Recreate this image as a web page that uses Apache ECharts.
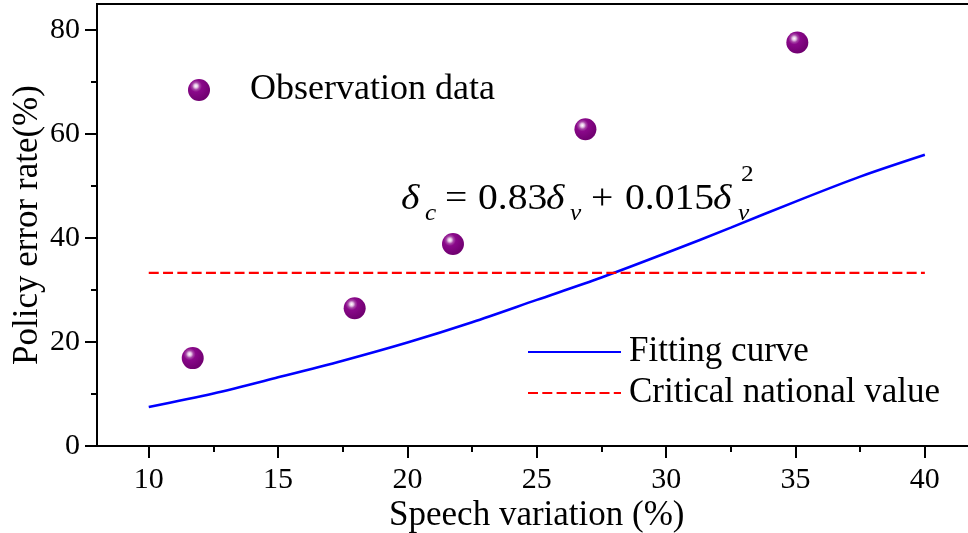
<!DOCTYPE html>
<html><head><meta charset="utf-8">
<script src="https://cdn.jsdelivr.net/npm/echarts@6.0.0/dist/echarts.min.js"></script>
<style>html,body{margin:0;padding:0;background:#fff}#c{width:968px;height:533px}</style>
</head><body><div id="c"></div>
<script>
// ---- data ----
const obsX = [11.70, 17.96, 21.76, 26.88, 35.07];
const obsY = [16.9, 26.5, 38.85, 60.9, 77.6];
const fitX = [10, 12.5, 15, 17.5, 20, 22.5, 25, 27.5, 30, 32.5, 35, 37.5, 40];
const fitY = [7.5, 10.1, 13.2, 16.4, 19.9, 23.8, 28.1, 32.4, 37.1, 42.0, 47.0, 51.8, 56.0];
const critX = [10, 40];
const critValue = 33.3;
const xTicks = [10, 15, 20, 25, 30, 35, 40];
const xMinorTicks = [12.5, 17.5, 22.5, 27.5, 32.5, 37.5];
const yTicks = [0, 20, 40, 60, 80];
const yMinorTicks = [10, 30, 50, 70];
const seriesNames = ['Observation data', 'Fitting curve', 'Critical national value'];
const xTitle = 'Speech variation (%)';
const yTitle = 'Policy error rate(%)';

const FONT = "'Liberation Serif','Times New Roman',serif";
const chart = echarts.init(document.getElementById('c'));

const gridRect = { left: 97, top: 4, width: 879.6, height: 442, outerBoundsMode: 'none', containLabel: false };
const sphere = new echarts.graphic.RadialGradient(0.36, 0.32, 0.68, [
  { offset: 0, color: '#ffffff' },
  { offset: 0.12, color: '#e6c6e6' },
  { offset: 0.25, color: '#a646a6' },
  { offset: 0.4, color: '#8a088a' },
  { offset: 1, color: '#700070' }
]);

function piece(text, x, y, fs, italic) {
  return {
    type: 'text', x: x, y: y, scaleX: 1.1,
    style: { text: text, font: (italic ? 'italic ' : '') + fs + 'px ' + FONT, fill: '#000', verticalAlign: 'middle' }
  };
}
const fBase = 200, fSub = 214, fSup = 175;

chart.setOption({
  animation: false,
  backgroundColor: '#fff',
  textStyle: { fontFamily: FONT },
  grid: [
    Object.assign({ show: true, borderColor: '#000', borderWidth: 2, backgroundColor: 'transparent' }, gridRect),
    Object.assign({ show: false }, gridRect)
  ],
  xAxis: [
    {
      type: 'value', gridIndex: 0, min: 8, max: 42,
      axisLine: { show: true, onZero: false, lineStyle: { color: '#000', width: 2 } },
      axisTick: { show: true, inside: false, length: 12, customValues: xTicks, lineStyle: { color: '#000', width: 2 } },
      axisLabel: { show: true, customValues: xTicks, margin: 19, fontSize: 30, color: '#000', fontFamily: FONT },
      splitLine: { show: false },
      name: xTitle, nameLocation: 'middle', nameGap: 52, nameMoveOverlap: false,
      nameTextStyle: { fontSize: 35, color: '#000', fontFamily: FONT }
    },
    {
      type: 'value', gridIndex: 1, min: 8, max: 42,
      axisLine: { show: false, onZero: false },
      axisTick: { show: true, inside: false, length: 6, customValues: xMinorTicks, lineStyle: { color: '#000', width: 2 } },
      axisLabel: { show: false }, splitLine: { show: false }
    }
  ],
  yAxis: [
    {
      type: 'value', gridIndex: 0, min: 0, max: 85,
      axisLine: { show: true, onZero: false, lineStyle: { color: '#000', width: 2 } },
      axisTick: { show: true, inside: false, length: 12, customValues: yTicks, lineStyle: { color: '#000', width: 2 } },
      axisLabel: { show: true, customValues: yTicks, margin: 17, fontSize: 30, color: '#000', fontFamily: FONT },
      splitLine: { show: false },
      name: yTitle, nameLocation: 'middle', nameGap: 52, nameMoveOverlap: false,
      nameTextStyle: { fontSize: 35, color: '#000', fontFamily: FONT }
    },
    {
      type: 'value', gridIndex: 1, min: 0, max: 85,
      axisLine: { show: false, onZero: false },
      axisTick: { show: true, inside: false, length: 6, customValues: yMinorTicks, lineStyle: { color: '#000', width: 2 } },
      axisLabel: { show: false }, splitLine: { show: false }
    }
  ],
  legend: [
    {
      data: [seriesNames[0]], left: 188, top: 67, padding: 0, icon: 'circle',
      itemWidth: 22, itemHeight: 22,
      itemStyle: { opacity: 1 },
      textStyle: { fontSize: 36, lineHeight: 40, color: '#000', fontFamily: FONT, padding: [6, 0, 0, 35] }
    },
    {
      data: [seriesNames[1], seriesNames[2]], orient: 'vertical', left: 527, top: 332, padding: 0,
      itemWidth: 93, itemHeight: 14, itemGap: 1,
      itemStyle: { opacity: 0 },
      textStyle: { fontSize: 35, lineHeight: 40, color: '#000', fontFamily: FONT, padding: [0, 0, 0, 3] }
    }
  ],
  series: [
    {
      name: seriesNames[0], type: 'scatter', xAxisIndex: 0, yAxisIndex: 0,
      symbol: 'circle', symbolSize: 22,
      itemStyle: { color: sphere, opacity: 1 },
      data: obsX.map((x, i) => [x, obsY[i]]), z: 5
    },
    {
      name: seriesNames[1], type: 'line', xAxisIndex: 0, yAxisIndex: 0,
      symbol: 'none', smooth: 0.3,
      lineStyle: { color: '#0000ff', width: 2.6 },
      itemStyle: { color: '#0000ff' },
      data: fitX.map((x, i) => [x, fitY[i]])
    },
    {
      name: seriesNames[2], type: 'line', xAxisIndex: 0, yAxisIndex: 0,
      symbol: 'none',
      lineStyle: { color: '#ff0000', width: 2.3, type: [10, 4.3] },
      itemStyle: { color: '#ff0000' },
      data: critX.map(x => [x, critValue])
    }
  ],
  graphic: [
    piece('δ', 401, fBase, 36, true),
    piece('c', 425, fSub, 23, true),
    piece('=', 445, fBase, 36, false),
    piece('0.83', 478, fBase, 36, false),
    piece('δ', 546, fBase, 36, true),
    piece('v', 570, fSub, 23, true),
    piece('+', 591, fBase, 36, false),
    piece('0.015', 625, fBase, 36, false),
    piece('δ', 713, fBase, 36, true),
    piece('v', 738, fSub, 23, true),
    piece('2', 741, fSup, 23, false)
  ]
});
</script>
</body></html>
